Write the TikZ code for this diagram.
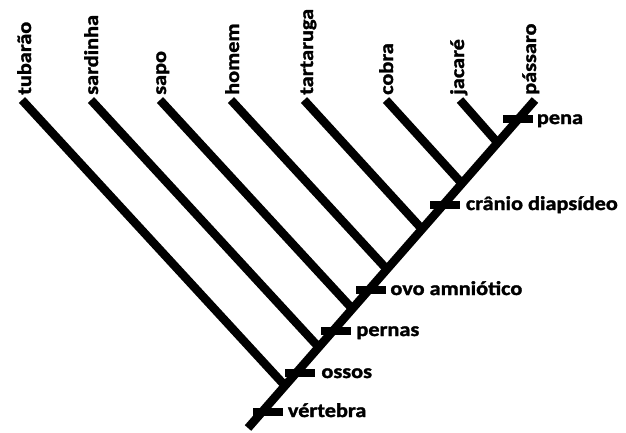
\documentclass[tikz,border=0pt]{standalone}
\usepackage{fontspec}
\newfontfamily\labfont[FakeStretch=1.13, BoldFeatures={FakeBold=1.6}]{Carlito}
\tikzset{
  branch/.style={line width=8.5pt, line cap=butt, black},
  lab/.style={font=\labfont\bfseries\fontsize{19.7}{20}\selectfont, inner sep=0pt, text=black},
  toplab/.style={lab, rotate=90, anchor=base west},
  sidelab/.style={lab, anchor=base west},
  markbox/.style={fill=black, draw=none, minimum width=30pt, minimum height=8pt, inner sep=0pt, rectangle}
}
\begin{document}
\begin{tikzpicture}[x=1pt,y=-1pt]
\useasboundingbox[fill=white] (0,0) rectangle (626,432);
% trunk
\coordinate (root) at (248,428);
\coordinate (tpassaro) at (535,100);
% tips
\coordinate (ttubarao) at (22,100);
\coordinate (tsardinha) at (91,100);
\coordinate (tsapo) at (160,100);
\coordinate (thomem) at (231,100);
\coordinate (ttartaruga) at (304,100);
\coordinate (tcobra) at (386,100);
\coordinate (tjacare) at (460,100);
% junctions
\coordinate (jtubarao) at (285,385.7);
\coordinate (jsardinha) at (318.7,347.2);
\coordinate (jsapo) at (352.3,308.8);
\coordinate (jhomem) at (386.9,269.3);
\coordinate (jtartaruga) at (422,229.1);
\coordinate (jcobra) at (461.9,183.5);
\coordinate (jjacare) at (497.8,143.0);

\draw[branch] (root) -- (tpassaro);
\draw[branch] (ttubarao) -- (jtubarao);
\draw[branch] (tsardinha) -- (jsardinha);
\draw[branch] (tsapo) -- (jsapo);
\draw[branch] (thomem) -- (jhomem);
\draw[branch] (ttartaruga) -- (jtartaruga);
\draw[branch] (tcobra) -- (jcobra);
\draw[branch] (tjacare) -- (jjacare);

% taxon labels
\node[toplab] (ltubarao) at (31,95) {tubarão};
\node[toplab] (lsardinha) at (98,95) {sardinha};
\node[toplab] (lsapo) at (166,95) {sapo};
\node[toplab] (lhomem) at (239,95) {homem};
\node[toplab] (ltartaruga) at (313,95) {tartaruga};
\node[toplab] (lcobra) at (393,95) {cobra};
\node[toplab] (ljacare) at (464,95) {jacaré};
\node[toplab] (lpassaro) at (536,95) {pássaro};

% character markers
\node[markbox] (mvert) at (267.5,412) {};
\node[markbox] (mossos) at (300,373) {};
\node[markbox] (mpernas) at (336,331) {};
\node[markbox] (movo) at (371,290) {};
\node[markbox] (mcranio) at (444.5,205) {};
\node[markbox] (mpena) at (517.5,119) {};

\node[sidelab] (tvert) at ([xshift=5pt,yshift=-5pt]mvert.east) {vértebra};
\node[sidelab] (tossos) at ([xshift=6pt,yshift=-5pt]mossos.east) {ossos};
\node[sidelab] (tpernas) at ([xshift=5pt,yshift=-5pt]mpernas.east) {pernas};
\node[sidelab] (tovo) at ([xshift=4pt,yshift=-5pt]movo.east) {ovo amniótico};
\node[sidelab] (tcranio) at ([xshift=6pt,yshift=-5pt]mcranio.east) {crânio diapsídeo};
\node[sidelab] (tpena) at ([xshift=4pt,yshift=-5pt]mpena.east) {pena};
\end{tikzpicture}
\end{document}
